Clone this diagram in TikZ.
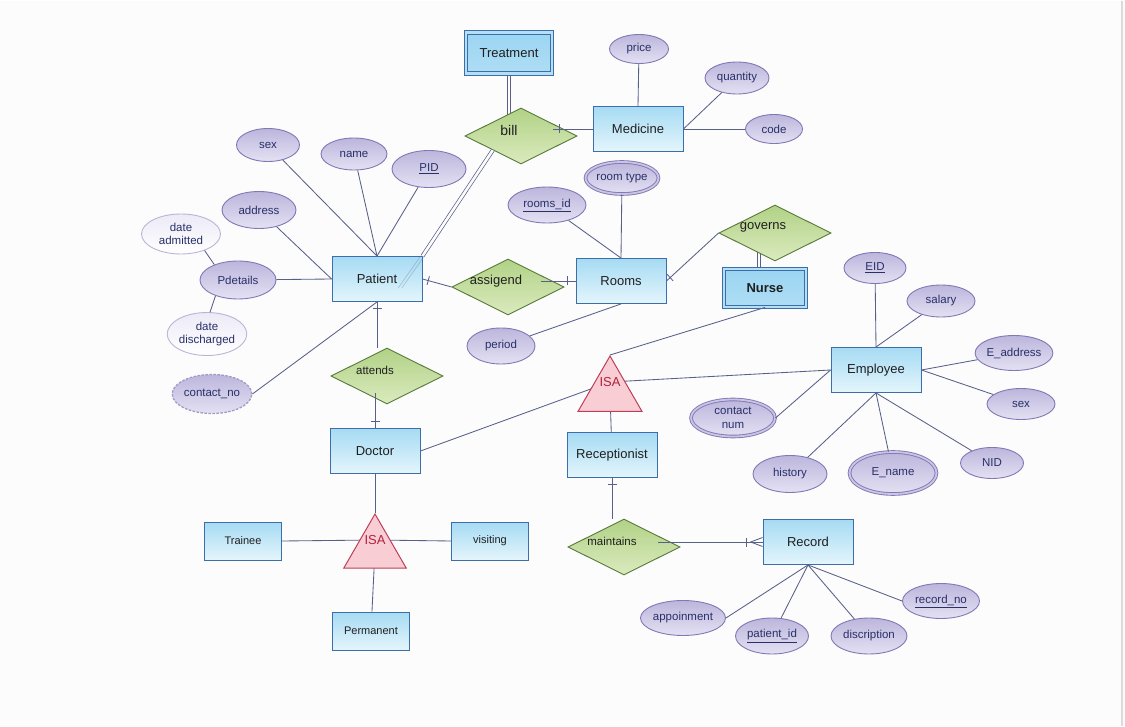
\documentclass[tikz,border=0pt]{standalone}
\usepackage{fontspec}
\setmainfont{Liberation Sans}
\definecolor{entityblue}{RGB}{166,219,243}
\definecolor{entitypale}{RGB}{228,245,252}
\definecolor{entityedge}{RGB}{60,110,170}
\definecolor{weakblue}{RGB}{155,213,242}
\definecolor{relgreen}{RGB}{178,210,134}
\definecolor{relpale}{RGB}{218,234,190}
\definecolor{reledge}{RGB}{86,122,56}
\definecolor{attrpurple}{RGB}{188,182,220}
\definecolor{attrpale}{RGB}{228,225,243}
\definecolor{attredge}{RGB}{130,120,182}
\definecolor{attrtext}{RGB}{40,48,104}
\definecolor{isapink}{RGB}{248,206,212}
\definecolor{isaedge}{RGB}{190,62,88}
\definecolor{isared}{RGB}{176,34,64}
\definecolor{linkgray}{RGB}{88,96,138}
\definecolor{pagebg}{RGB}{252,252,252}
\usetikzlibrary{
    shapes.geometric,
    positioning,
    calc,
    backgrounds,
    decorations.markings
}
\tikzset{
    entity/.style={draw=entityedge, line width=0.9pt, top color=entityblue, bottom color=entitypale,
        minimum width=90pt, minimum height=45pt, inner sep=0pt, text=black!88,
        font=\fontsize{13}{15}\selectfont},
    subentity/.style={entity, minimum width=77pt, minimum height=38pt, font=\fontsize{11}{13}\selectfont},
    weakentity/.style={entity, top color=weakblue, bottom color=weakblue!80!white,
        double=weakblue!75!white, double distance=2.4pt},
    relation/.style={diamond, draw=reledge, line width=0.9pt, top color=relgreen, bottom color=relpale,
        minimum width=112pt, minimum height=56pt, inner sep=0pt},
    reltext/.style={xshift=-12pt, yshift=6pt, text=black!88, font=\fontsize{13}{15}\selectfont},
    attr/.style={ellipse, draw=attredge, line width=0.9pt, top color=attrpurple, bottom color=attrpale,
        inner sep=0pt, align=center, text=attrtext, font=\fontsize{11.5}{13.5}\selectfont},
    multiattr/.style={attr, double=attrpurple!80!white, double distance=1.8pt},
    derivedattr/.style={attr, dash pattern=on 2.5pt off 1.5pt, draw=attredge!75, line width=1.3pt},
    subattr/.style={attr, draw=attredge!55, top color=attrpale!70!white, bottom color=white},
    isatri/.style={regular polygon, regular polygon sides=3, draw=isaedge, line width=1pt,
        fill=isapink, minimum size=74pt, inner sep=0pt},
    isatext/.style={text=isared, font=\fontsize{13}{15}\selectfont, inner sep=1pt},
    link/.style={draw=linkgray, line width=0.85pt},
    faintlink/.style={draw=linkgray, line width=0.7pt, draw opacity=0.3},
    doublelink/.style={draw=linkgray, line width=0.7pt, double=pagebg, double distance=2.6pt},
    one at/.style={postaction={decorate, decoration={markings,
        mark=at position #1 with {\draw[link] (0,-4.5pt) -- (0,4.5pt);}}}},
    many at end/.style={postaction={decorate, decoration={markings,
        mark=at position -16pt with {\draw[link] (0,-4.5pt) -- (0,4.5pt);},
        mark=at position -12pt with {\draw[link] (0,0) -- (12pt,4.5pt) (0,0) -- (12pt,-4.5pt);}}}}
}

\begin{document}
\begin{tikzpicture}[x=1pt, y=-1pt]
    % Page
    \begin{scope}[on background layer]
        \fill[pagebg] (0,0) rectangle (1125,725);
        \draw[black!14, line width=2pt] (1122,0) -- (1122,725);
    \end{scope}
    \useasboundingbox (0,0) rectangle (1125,725);

    % Entities
    \node[weakentity, minimum width=86pt, minimum height=41pt] (treatment) at (509,52) {Treatment};
    \node[entity] (medicine) at (638,128) {Medicine};
    \node[entity] (patient) at (377,278) {Patient};
    \node[entity] (rooms) at (621,280) {Rooms};
    \node[weakentity, minimum width=82pt, minimum height=38pt, font=\fontsize{13}{15}\selectfont\bfseries] (nurse) at (765,287) {Nurse};
    \node[entity] (employee) at (876,369) {Employee};
    \node[entity] (doctor) at (375,450) {Doctor};
    \node[entity] (receptionist) at (612,454) {Receptionist};
    \node[entity] (record) at (808,541) {Record};
    \node[subentity] (trainee) at (243,540) {Trainee};
    \node[subentity] (visiting) at (490,540) {visiting};
    \node[subentity] (permanent) at (371,630) {Permanent};

    % Relationships
    \node[relation, label={[reltext, font=\fontsize{14}{16}\selectfont]center:bill}] (bill) at (521,135) {};
    \node[relation, label={[reltext]center:assigend}] (assigend) at (508,286) {};
    \node[relation, label={[reltext]center:governs}] (governs) at (775,232) {};
    \node[relation, label={[reltext, font=\fontsize{11.5}{13}\selectfont]center:attends}] (attends) at (387,375) {};
    \node[relation, label={[reltext, font=\fontsize{11.5}{13}\selectfont]center:maintains}] (maintains) at (624,546) {};

    % ISA
    \node[isatri] (isa1tri) at (610,392) {};
    \node[isatext] (isa1) at (610,381) {ISA};
    \node[isatri, minimum size=72pt] (isa2tri) at (375,549) {};
    \node[isatext] (isa2) at (375,539) {ISA};

    % Medicine attributes
    \node[attr, minimum width=59pt, minimum height=29pt] (price) at (639,48) {price};
    \node[attr, minimum width=64pt, minimum height=32pt] (quantity) at (737,77) {quantity};
    \node[attr, minimum width=57pt, minimum height=29pt] (code) at (774,128) {code};

    % Patient attributes
    \node[attr, minimum width=63pt, minimum height=33pt] (psex) at (268,144) {sex};
    \node[attr, minimum width=66pt, minimum height=32pt] (pname) at (354,153) {name};
    \node[attr, minimum width=74pt, minimum height=37pt] (pid) at (429,168) {\underline{PID}};
    \node[attr, minimum width=74pt, minimum height=37pt] (paddress) at (259,209) {address};
    \node[subattr, minimum width=79pt, minimum height=40pt] (dateadmitted) at (181,233) {date\\admitted};
    \node[attr, minimum width=76pt, minimum height=38pt] (pdetails) at (238,279) {Pdetails};
    \node[subattr, minimum width=79pt, minimum height=43pt] (datedischarged) at (207,333) {date\\discharged};
    \node[derivedattr, minimum width=78pt, minimum height=39pt] (contactno) at (212,393) {contact\_no};

    % Rooms attributes
    \node[multiattr, minimum width=73pt, minimum height=32pt] (roomtype) at (622,177) {room type};
    \node[attr, minimum width=78pt, minimum height=36pt] (roomsid) at (547,204) {\underline{rooms\_id}};
    \node[attr, minimum width=68pt, minimum height=36pt] (period) at (501,345) {period};

    % Employee attributes
    \node[attr, minimum width=62pt, minimum height=31pt] (eid) at (875,267) {\underline{EID}};
    \node[attr, minimum width=68pt, minimum height=32pt] (salary) at (941,300) {salary};
    \node[attr, minimum width=73pt, minimum height=35pt] (eaddress) at (1014,352) {E\_address};
    \node[attr, minimum width=68pt, minimum height=31pt] (esex) at (1021,403) {sex};
    \node[attr, minimum width=63pt, minimum height=31pt] (nid) at (992,462) {NID};
    \node[multiattr, minimum width=87pt, minimum height=42pt] (ename) at (893,472) {E\_name};
    \node[attr, minimum width=74pt, minimum height=37pt] (history) at (790,473) {history};
    \node[multiattr, minimum width=84pt, minimum height=37pt] (contactnum) at (733,417) {contact\\num};

    % Record attributes
    \node[attr, minimum width=81pt, minimum height=35pt] (appoinment) at (683,617) {appoinment};
    \node[attr, minimum width=73pt, minimum height=36pt] (patientid) at (772,635) {\underline{patient\_id}};
    \node[attr, minimum width=76pt, minimum height=36pt] (discription) at (869,635) {discription};
    \node[attr, minimum width=77pt, minimum height=35pt] (recordno) at (941,600) {\underline{record\_no}};

    % Connectors behind the shapes
    \begin{scope}[on background layer]
        \draw[doublelink] (treatment.south) -- (treatment.south |- bill.center);
        \draw[doublelink] ($(nurse.north)+(-6,0)$) -- ($(nurse.north |- governs.center)+(-6,0)$);
        \draw[link] (doctor.east) -- (isa1);
        \draw[link] (isa1) -- (employee.west);
        \draw[link] (trainee.east) -- (isa2);
        \draw[link] (isa2) -- (visiting.west);
    \end{scope}

    % Medicine
    \draw[link, one at=6pt] ($(medicine.west -| bill.east)+(-24,0)$) -- (medicine.west);
    \draw[link] (price) -- (medicine.north);
    \draw[link] (quantity) -- (medicine.east);
    \draw[link] (code) -- (medicine.east);

    % Patient
    \draw[doublelink] (bill.south west) -- (patient.north east);
    \draw[faintlink] ($(patient.north east)+(-1.8,0)$) -- ($(patient.center)+(21.2,9)$);
    \draw[faintlink] ($(patient.north east)+(1.8,0)$) -- ($(patient.center)+(24.8,9)$);
    \draw[link] (psex) -- (patient.north);
    \draw[link] (pname) -- (patient.north);
    \draw[link] (pid) -- (patient.north);
    \draw[link] (paddress) -- (patient.west);
    \draw[link] (pdetails) -- (patient.west);
    \draw[link] (pdetails.147) -- (dateadmitted.-35);
    \draw[link] (pdetails.215) -- (datedischarged.82);
    \draw[link] (contactno.east) -- (patient.south);
    \draw[link, one at=6pt] (patient.east) -- (assigend.west);
    \draw[link, one at=6pt] (patient.south) -- (patient.south |- attends.north);

    % Rooms
    \draw[link, one at=-8pt] ($(rooms.west -| assigend.east)+(-23,0)$) -- (rooms.west);
    \draw[link] (roomsid) -- (rooms.north);
    \draw[link] (roomtype) -- (rooms.north);
    \draw[link] (period) -- (rooms.south);
    \draw[link, one at=5pt] (rooms.east) -- (governs.west);

    % Employee
    \draw[link] (nurse.south) -- (isa1tri.corner 1);
    \draw[link] (isa1tri) -- (receptionist);
    \draw[link] (eid) -- (employee.north);
    \draw[link] (salary) -- (employee.north);
    \draw[link] (eaddress) -- (employee.east);
    \draw[link] (esex) -- (employee.east);
    \draw[link] (nid) -- (employee.south);
    \draw[link] (ename) -- (employee.south);
    \draw[link] (history) -- (employee.south);
    \draw[link] (contactnum.east) -- (employee.west);

    % Doctor
    \draw[link, one at=-7pt] ($(doctor.north |- attends.center)+(0,17)$) -- (doctor.north);
    \draw[link] (doctor.south) -- (isa2tri.corner 1);
    \draw[link] (isa2tri) -- (permanent);

    % Record
    \draw[link, one at=6pt] (receptionist.south) -- (receptionist.south |- maintains.north);
    \draw[link, many at end] ($(record.west -| maintains.east)+(-22,0)$) -- (record.west);
    \draw[link] (appoinment.east) -- (record.south);
    \draw[link] (patientid) -- (record.south);
    \draw[link] (discription) -- (record.south);
    \draw[link] (recordno.west) -- (record.south);
\end{tikzpicture}
\end{document}
